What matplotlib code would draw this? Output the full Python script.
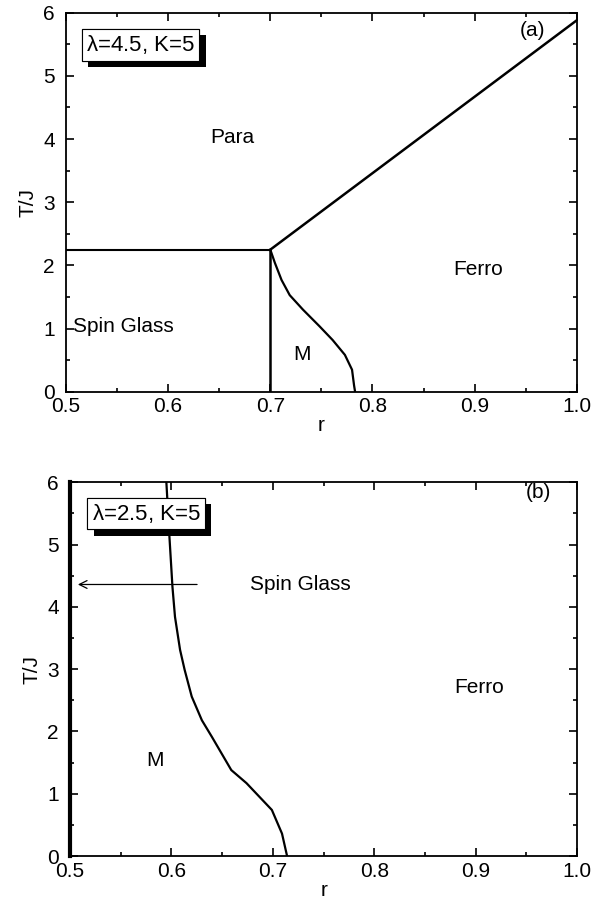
import matplotlib
matplotlib.use('Agg')
import matplotlib.pyplot as plt
import matplotlib.patheffects as pe
from matplotlib.ticker import MultipleLocator

plt.rcParams['font.family'] = ['Liberation Sans', 'DejaVu Sans']
plt.rcParams['font.size'] = 14

# panel (a): lambda=4.5, K=5
sg_r = [0.5, 0.7]
sg_T = [2.25, 2.25]
vert_r = [0.7, 0.7]
vert_T = [0.0, 2.25]
para_r = [0.7, 1.0]
para_T = [2.25, 5.88]
m_a_r = [0.700, 0.7045, 0.711, 0.719, 0.732, 0.748, 0.761, 0.773, 0.780, 0.782, 0.783]
m_a_T = [2.25, 2.04, 1.77, 1.53, 1.30, 1.04, 0.82, 0.585, 0.35, 0.10, 0.0]

# panel (b): lambda=2.5, K=5
m_b_r = [0.595, 0.598, 0.601, 0.6035, 0.6085, 0.613, 0.620, 0.630, 0.640, 0.659, 0.674, 0.699, 0.709, 0.714]
m_b_T = [6.0, 5.13, 4.32, 3.84, 3.31, 2.99, 2.56, 2.18, 1.91, 1.38, 1.17, 0.74, 0.36, 0.0]

fig = plt.figure(figsize=(6.11, 9.07), dpi=100)
ax1 = fig.add_axes([0.108, 0.568, 0.836, 0.418])
ax2 = fig.add_axes([0.1146, 0.0562, 0.830, 0.412])


def style(ax):
    ax.set_xlim(0.5, 1.0)
    ax.set_ylim(0, 6)
    ax.xaxis.set_major_locator(MultipleLocator(0.1))
    ax.xaxis.set_minor_locator(MultipleLocator(0.05))
    ax.yaxis.set_major_locator(MultipleLocator(1))
    ax.yaxis.set_minor_locator(MultipleLocator(0.5))
    ax.tick_params(which='both', direction='in', top=True, right=True, width=1.2)
    ax.tick_params(which='major', length=6, labelsize=15)
    ax.tick_params(which='minor', length=3)
    ax.tick_params(axis='x', which='major', pad=4)
    ax.tick_params(axis='y', which='major', pad=8)
    ax.set_xticks([0.5, 0.6, 0.7, 0.8, 0.9, 1.0])
    ax.set_xticklabels(['0.5', '0.6', '0.7', '0.8', '0.9', '1.0'])
    for s in ax.spines.values():
        s.set_linewidth(1.3)
    ax.set_xlabel('r', fontsize=15, labelpad=0)
    ax.set_ylabel('T/J', fontsize=15, labelpad=4)


def label_box(ax, txt, x, y):
    t = ax.text(x, y, txt, fontsize=16, ha='center', va='center',
                bbox=dict(boxstyle='square,pad=0.2', fc='white', ec='black', lw=0.8))
    t.get_bbox_patch().set_path_effects([
        pe.withSimplePatchShadow(offset=(4.5, -4.5), shadow_rgbFace='black', alpha=1.0),
        pe.Normal()])


style(ax1)
ax1.plot(sg_r, sg_T, color='black', lw=1.5)
ax1.plot(vert_r, vert_T, color='black', lw=1.8)
ax1.plot(para_r, para_T, color='black', lw=1.8)
ax1.plot(m_a_r, m_a_T, color='black', lw=1.6)
ax1.text(0.663, 4.03, 'Para', ha='center', va='center', fontsize=15)
ax1.text(0.556, 1.03, 'Spin Glass', ha='center', va='center', fontsize=15)
ax1.text(0.731, 0.59, 'M', ha='center', va='center', fontsize=15)
ax1.text(0.903, 1.93, 'Ferro', ha='center', va='center', fontsize=15)
ax1.text(0.957, 5.72, '(a)', ha='center', va='center', fontsize=15)
label_box(ax1, r'$\mathregular{\lambda}$=4.5, K=5', 0.573, 5.49)

style(ax2)
ax2.spines['left'].set_linewidth(3)
ax2.plot(m_b_r, m_b_T, color='black', lw=1.6)
ax2.annotate('', xy=(0.505, 4.36), xytext=(0.628, 4.36),
             arrowprops=dict(arrowstyle='->', color='black', lw=0.9))
ax2.text(0.727, 4.36, 'Spin Glass', ha='center', va='center', fontsize=15)
ax2.text(0.903, 2.71, 'Ferro', ha='center', va='center', fontsize=15)
ax2.text(0.584, 1.54, 'M', ha='center', va='center', fontsize=15)
ax2.text(0.962, 5.83, '(b)', ha='center', va='center', fontsize=15)
label_box(ax2, r'$\mathregular{\lambda}$=2.5, K=5', 0.575, 5.5)

fig.savefig('out.png', dpi=100)
